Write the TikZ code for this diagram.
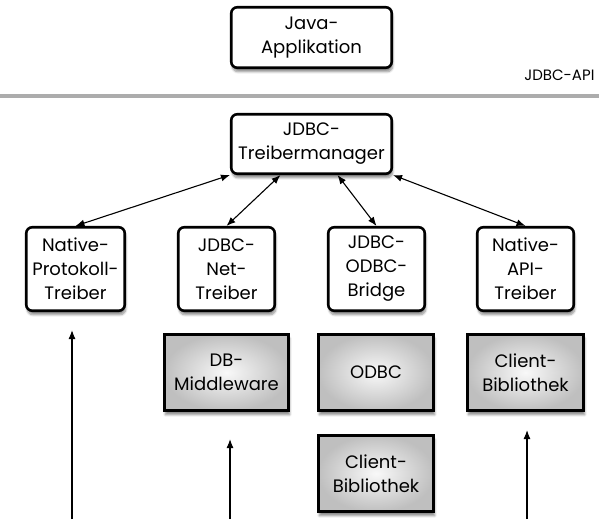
\documentclass[tikz,border=0pt]{standalone}
\usepackage{fontspec}
\setmainfont{Poppins}
\usetikzlibrary{positioning}
\usetikzlibrary{arrows.meta}
\usetikzlibrary{shadows.blur}
\tikzset{
  layer/.style={draw, line width=2.6pt, rounded corners=6pt, fill=white, align=center,
    blur shadow={shadow xshift=1pt, shadow yshift=-4pt, shadow blur steps=6, shadow opacity=45}},
  native/.style={draw, line width=2.6pt, inner color=gray!5, outer color=gray!50, align=center,
    blur shadow={shadow xshift=1pt, shadow yshift=-4pt, shadow blur steps=6, shadow opacity=45}},
  link/.style={{Latex[length=9pt,width=7pt]}-{Latex[length=9pt,width=7pt]}, line width=1.1pt},
  feed/.style={-{Latex[length=9pt,width=7pt]}, line width=1.1pt}
}

\begin{document}
\begin{tikzpicture}[x=1pt, y=-1pt, font=\fontsize{18}{24}\selectfont]
\useasboundingbox (0,0) rectangle (599,519);

% application above the API
\node[layer, minimum width=160.5pt, minimum height=60.5pt] (app) at (311.5,37.5) {Java-\\Applikation};
\node[anchor=east, font=\fontsize{15}{17}\selectfont] (api) at (598,75) {JDBC-API};
\draw[line width=4pt, gray!65] (0,95.5) -- (599,95.5);

% driver manager
\node[layer, minimum width=160.5pt, minimum height=59.5pt] (mgr) at (311.5,144) {JDBC-\\Treibermanager};

% the four driver types
\node[layer, minimum width=98.5pt, minimum height=83.5pt] (npt) at (75.5,269) {Native-\\Protokoll-\\Treiber};
\node[layer, minimum width=96.5pt, minimum height=83.5pt] (net) at (226.5,269) {JDBC-\\Net-\\Treiber};
\node[layer, minimum width=96.5pt, minimum height=83.5pt] (bridge) at (376.5,269) {JDBC-\\ODBC-\\Bridge};
\node[layer, minimum width=96.5pt, minimum height=83.5pt] (napi) at (525.5,269) {Native-\\API-\\Treiber};

%%% native parts
\node[native, minimum width=124.5pt, minimum height=76.5pt] (mw) at (226.5,372.5) {DB-\\Middleware};
\node[native, minimum width=115.5pt, minimum height=76.5pt] (odbc) at (376,372.5) {ODBC};
\node[native, minimum width=116.5pt, minimum height=76.5pt] (clib) at (525.5,372.5) {Client-\\Bibliothek};
\node[native, minimum width=115.5pt, minimum height=76.5pt] (clib2) at (376,473.5) {Client-\\Bibliothek};

% manager <-> drivers
\draw[link] (mgr.south west) -- (npt.north);
\draw[link] (mgr.-135) -- (net.north);
\draw[link] (mgr.-50) -- (bridge.north);
\draw[link] (mgr.south east) -- (napi.north);

% incoming from below
\coordinate (in1) at (72,519);
\coordinate (in2) at (230,519);
\coordinate (in3) at (527,519);
\draw[feed, shorten >=18pt] (in1) -- (npt.south -| in1);
\draw[feed, shorten >=27pt] (in2) -- (mw.south -| in2);
\draw[feed, shorten >=18pt] (in3) -- (clib.south -| in3);

\end{tikzpicture}
\end{document}
